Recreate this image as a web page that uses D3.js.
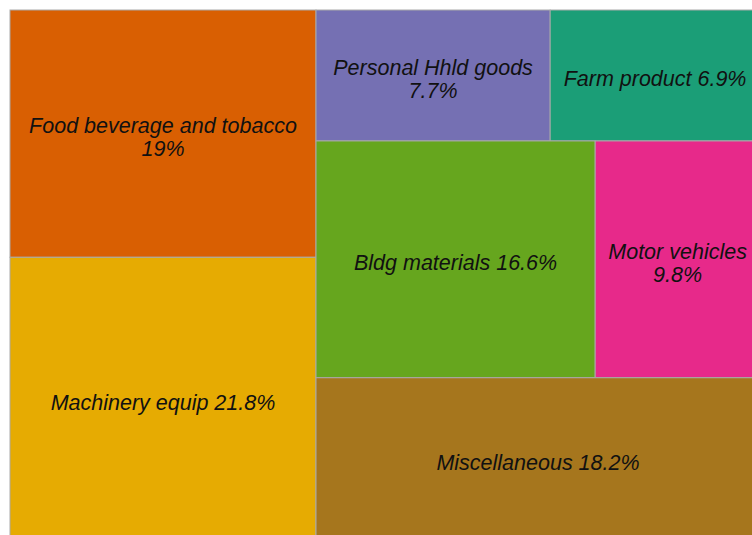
<!DOCTYPE html>
<html>
<head>
<meta charset="utf-8">
<script src="https://cdn.jsdelivr.net/npm/d3@7"></script>
<style>
  html, body { margin: 0; padding: 0; background: #ffffff; overflow: hidden; }
  svg { display: block; }
</style>
</head>
<body>
<svg id="chart" width="752" height="535"></svg>
<script>
// ---- data ----
const categories = ["Food beverage and tobacco", "Machinery equip", "Personal Hhld goods", "Farm product", "Bldg materials", "Motor vehicles", "Miscellaneous"];
const shares = [19, 21.8, 7.7, 6.9, 16.6, 9.8, 18.2];
const shareLabels = ["19%", "21.8%", "7.7%", "6.9%", "16.6%", "9.8%", "18.2%"];
const colors = ["#D95F02", "#E6AB02", "#7570B3", "#1B9E77", "#66A61E", "#E7298A", "#A6761D"];

// ---- layout ----
const W = 752, H = 535;
const box = { x0: 10, y0: 10, x1: 760, y1: 541 };

const leaf = i => ({ name: categories[i], value: shares[i], label: shareLabels[i], color: colors[i] });
// nesting mirrors the arrangement of the reference tiling
const tree = {
  split: "x", children: [
    { split: "y", children: [leaf(0), leaf(1)] },
    { split: "y", children: [
      { split: "x", children: [leaf(2), leaf(3)] },
      { split: "x", children: [leaf(4), leaf(5)] },
      leaf(6)
    ]}
  ]
};

const root = d3.hierarchy(tree).sum(d => d.children ? 0 : d.value);

const tile = (node, x0, y0, x1, y1) =>
  (node.data.split === "x" ? d3.treemapDice : d3.treemapSlice)(node, x0, y0, x1, y1);

d3.treemap()
  .tile(tile)
  .size([box.x1 - box.x0, box.y1 - box.y0])
  .round(false)(root);

const svg = d3.select("#chart");
const g = svg.append("g").attr("transform", `translate(${box.x0},${box.y0})`);

const leaves = root.leaves();
const cell = g.selectAll("g.cell").data(leaves).join("g").attr("class", "cell");

cell.append("rect")
  .attr("x", d => d.x0)
  .attr("y", d => d.y0)
  .attr("width", d => d.x1 - d.x0)
  .attr("height", d => d.y1 - d.y0)
  .attr("fill", d => d.data.color)
  .attr("stroke", "#a9a9a9")
  .attr("stroke-width", 1);

const fontSize = 21.5, lineH = 23, pad = 6;
cell.each(function(d) {
  const sel = d3.select(this);
  const words = (d.data.name + " " + d.data.label).split(" ");
  const maxW = (d.x1 - d.x0) - 2 * pad;
  const t = sel.append("text")
    .attr("font-family", "Liberation Sans, Arial, sans-serif")
    .attr("font-style", "italic")
    .attr("font-size", fontSize)
    .attr("fill", "#111111")
    .attr("text-anchor", "middle");
  // greedy reflow
  const lines = [];
  let cur = [];
  const probe = t.append("tspan");
  words.forEach(w => {
    const test = cur.concat([w]).join(" ");
    probe.text(test);
    if (probe.node().getComputedTextLength() > maxW && cur.length) {
      lines.push(cur.join(" "));
      cur = [w];
    } else cur.push(w);
  });
  lines.push(cur.join(" "));
  probe.remove();
  const cx = (d.x0 + d.x1) / 2, cy = (d.y0 + d.y1) / 2;
  const firstBaseline = cy - (lines.length - 1) * lineH / 2 + fontSize * 0.5;
  lines.forEach((ln, i) => {
    t.append("tspan").attr("x", cx).attr("y", firstBaseline + i * lineH).text(ln);
  });
});
</script>
</body>
</html>
